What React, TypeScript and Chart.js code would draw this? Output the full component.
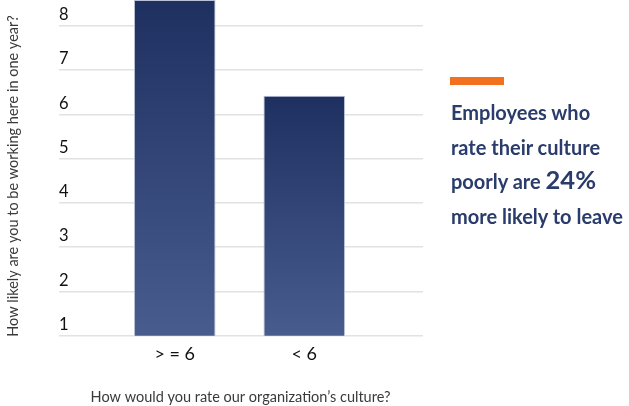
import React, { useEffect, useRef } from 'react';
import { Chart, registerables } from 'chart.js';

Chart.register(...registerables);

// ---- data ----
const categories = ['> = 6', '< 6'];
const likelihood = [8.58, 6.42];
const yTickValues = [1, 2, 3, 4, 5, 6, 7, 8];
const yMin = 1;
const yMax = 8.58;
const yTitle = 'How likely are you to be working here in one year?';
const xTitle = 'How would you rate our organization’s culture?';
const noteBefore = ['Employees who', 'rate their culture'];
const noteLead = 'poorly are ';
const noteHighlight = '24%';
const noteAfter = 'more likely to leave';

const GRID = '#e2e2e2';
const FONT = 'Lato, "Open Sans", sans-serif';

const titlesPlugin = {
  id: 'axisTitles',
  afterDraw(chart: any) {
    const ctx = chart.ctx;
    const ca = chart.chartArea;
    ctx.save();
    ctx.fillStyle = '#3a3a3a';
    ctx.font = `14.5px ${FONT}`;
    ctx.textAlign = 'center';
    ctx.textBaseline = 'alphabetic';
    ctx.fillText(xTitle, (ca.left + ca.right) / 2 + 1, 401.5);
    ctx.translate(18, 176);
    ctx.rotate(-Math.PI / 2);
    ctx.fillText(yTitle, 0, 0);
    ctx.restore();
  },
};

const zeroPad = (s: any) => {
  s.paddingTop = 0;
  s.paddingBottom = 0;
  s.paddingLeft = 0;
  s.paddingRight = 0;
};

function ChartView() {
  const ref = useRef<HTMLCanvasElement | null>(null);

  useEffect(() => {
    if (!ref.current) return;
    const setTicks = (s: any) => {
      s.ticks = yTickValues.map((v) => ({ value: v }));
    };
    const chart = new Chart(ref.current, {
      type: 'bar',
      data: {
        labels: categories,
        datasets: [
          {
            data: likelihood,
            yAxisID: 'y',
            backgroundColor: (c: any) => {
              const ch = c.chart;
              const ys = ch.scales && ch.scales.y;
              if (!ys || c.type !== 'data') return '#2c3f72';
              const top = ys.getPixelForValue(c.raw);
              const bottom = ys.getPixelForValue(yMin);
              if (!isFinite(top) || !isFinite(bottom) || top === bottom) return '#2c3f72';
              const g = ch.ctx.createLinearGradient(0, top, 0, bottom);
              g.addColorStop(0, '#1e3060');
              g.addColorStop(1, '#485c8e');
              return g;
            },
            borderColor: '#b9c1d6',
            borderWidth: 1,
            borderSkipped: 'bottom',
            barPercentage: 0.63,
            categoryPercentage: 1,
          },
        ],
      },
      options: {
        animation: false,
        responsive: true,
        maintainAspectRatio: false,
        layout: { autoPadding: false, padding: { left: 59, right: 206, top: 0, bottom: 0 } },
        plugins: {
          legend: { display: false },
          tooltip: { enabled: false },
          title: { display: false },
        },
        scales: {
          x: {
            grid: { display: false, drawTicks: false },
            border: { display: false },
            ticks: {
              font: { family: FONT, size: 18 },
              color: '#111111',
              padding: 8,
            },
            afterFit(s: any) {
              s.height = 70.3;
              zeroPad(s);
            },
          },
          y: {
            position: 'left',
            min: yMin,
            max: yMax,
            afterBuildTicks: setTicks,
            afterFit(s: any) {
              s.width = 51;
              zeroPad(s);
            },
            grid: { color: GRID, lineWidth: 1.5, drawTicks: true, tickLength: 51 },
            border: { display: false },
            ticks: {
              crossAlign: 'far',
              labelOffset: -11,
              padding: 0,
              font: { family: FONT, size: 16.5 },
              color: '#111111',
            },
          },
          y2: {
            position: 'right',
            min: yMin,
            max: yMax,
            afterBuildTicks: setTicks,
            afterFit(s: any) {
              s.width = 54;
              zeroPad(s);
            },
            grid: { color: GRID, lineWidth: 1.5, drawOnChartArea: false, drawTicks: true, tickLength: 54 },
            border: { display: false },
            ticks: { display: false },
          },
        },
      },
      plugins: [titlesPlugin],
    } as any);
    return () => chart.destroy();
  }, []);

  return <canvas ref={ref} />;
}

export default function App() {
  return (
    <div
      style={{
        position: 'absolute',
        left: 0,
        top: 0,
        width: 629,
        height: 406,
        background: '#ffffff',
        overflow: 'hidden',
      }}
    >
      <div style={{ position: 'absolute', left: 0, top: 0, width: 629, height: 406 }}>
        <ChartView />
      </div>
      <div
        style={{
          position: 'absolute',
          left: 450,
          top: 77,
          width: 54,
          height: 8,
          background: '#f37021',
        }}
      />
      <div
        style={{
          position: 'absolute',
          left: 451,
          top: 95,
          fontFamily: FONT,
          fontWeight: 700,
          fontSize: 20,
          lineHeight: '34.5px',
          color: '#2a3c6b',
          whiteSpace: 'nowrap',
        }}
      >
        {noteBefore[0]}
        <br />
        {noteBefore[1]}
        <br />
        {noteLead}
        <span style={{ fontSize: 25.5, lineHeight: '0' }}>{noteHighlight}</span>
        <br />
        {noteAfter}
      </div>
    </div>
  );
}
